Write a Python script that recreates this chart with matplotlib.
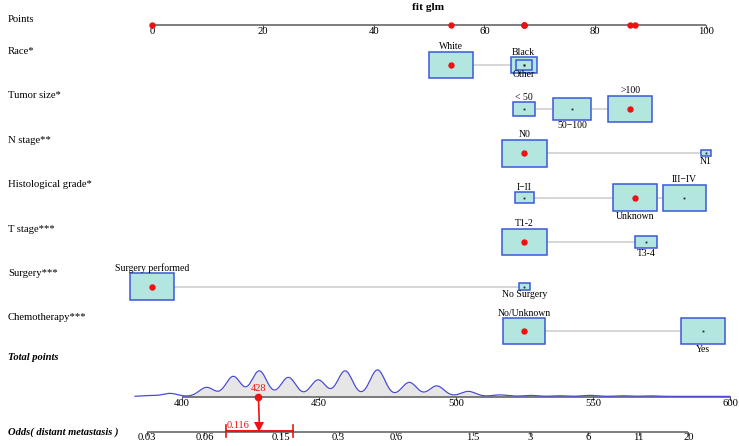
import matplotlib.pyplot as plt
import numpy as np
from matplotlib.patches import Rectangle

# ---- data
points_ticks = [0, 20, 40, 60, 80, 100]
total_ticks = [400, 450, 500, 550, 600]
odds_ticks = [0.03, 0.06, 0.15, 0.3, 0.6, 1.5, 3, 6, 11, 20]
odds_tick_labels = ["0.03", "0.06", "0.15", "0.3", "0.6", "1.5", "3", "6", "11", "20"]

row_names = ["Race*", "Tumor size*", "N stage**", "Histological grade*",
             "T stage***", "Surgery***", "Chemotherapy***"]
row_levels = [
    ["White", "Other", "Black"],
    ["< 50", "50\u2212100", ">100"],
    ["N0", "N1"],
    ["I\u2212II", "Unknown", "III\u2212IV"],
    ["T1-2", "T3-4"],
    ["Surgery performed", "No Surgery"],
    ["No/Unknown", "Yes"],
]
row_points = [
    [54.0, 67.1, 67.1],
    [67.2, 75.8, 86.3],
    [67.2, 100.0],
    [67.2, 87.2, 96.1],
    [67.2, 89.2],
    [0.0, 67.2],
    [67.2, 99.5],
]
# relative frequency of each level within its variable (box area)
row_freq = [
    [0.98, 0.13, 0.33],
    [0.25, 0.70, 1.00],
    [1.00, 0.054],
    [0.18, 1.00, 0.93],
    [1.00, 0.23],
    [1.00, 0.06],
    [0.90, 0.98],
]
selected = [0, 2, 0, 1, 0, 0, 0]

patient_total = 428
patient_odds = 0.116
patient_ci = (0.0775, 0.174)

# density of total points (peak location, height)
dens_centers = [388, 395.7, 409.1, 418.8, 428.3, 438.9, 449.8, 459.6, 471.4, 483.0,
                493.0, 504.5, 516.1, 527, 538, 549, 561, 571]
dens_heights = [0.8, 3, 9, 20, 25.5, 19, 16.5, 25.5, 26.5, 14,
                10.5, 5, 1.5, 1, 0.6, 1, 0.6, 0.5]

# ---- layout
W, H = 739, 446
row_y = [65, 109, 153.3, 197.8, 242, 286.5, 331]
points_y, total_y, odds_y = 25, 397, 432
box_w, box_h = 44.5, 26.7

plt.rcParams["font.family"] = ["Liberation Serif", "DejaVu Sans"]

fig = plt.figure(figsize=(W / 100, H / 100), dpi=100)
ax = fig.add_axes([0, 0, 1, 1])
ax.set_xlim(0, W)
ax.set_ylim(H, 0)
ax.axis("off")


def px_points(v):
    return 152 + np.asarray(v, dtype=float) * 5.54


def px_total(v):
    return 181.7 + (np.asarray(v, dtype=float) - 400) * 2.742


def px_odds(v):
    return 146.7 + (np.log10(np.asarray(v, dtype=float)) - np.log10(0.03)) * 191.8


def draw_scale(y, ticks, labels, to_px):
    xs = to_px(ticks)
    ax.plot([xs[0], xs[-1]], [y, y], color="#5a5a5a", lw=1.1, solid_capstyle="butt")
    for x, lab in zip(xs, labels):
        ax.plot([x, x], [y, y + 3], color="#5a5a5a", lw=0.8)
        ax.text(x, y + 1.5, lab, ha="center", va="top", fontsize=7.7)


# title
ax.text(428, 7, "fit glm", ha="center", va="center", fontsize=8.2, fontweight="bold")

# points axis
ax.text(8, 19, "Points", ha="left", va="center", fontsize=7.7)
draw_scale(points_y, points_ticks, [str(t) for t in points_ticks], px_points)
sel_pts = [row_points[i][s] for i, s in enumerate(selected)]
ax.plot(px_points(sel_pts), [points_y] * len(sel_pts), "o", color="#ee1111",
        ms=4.6, zorder=5, markeredgewidth=0)

# variable rows
for i, name in enumerate(row_names):
    y = row_y[i]
    ax.text(8, y - 13, name, ha="left", va="center", fontsize=7.7)
    xs = px_points(row_points[i])
    ax.plot([xs.min(), xs.max()], [y, y], color="#cfcfcf", lw=1.2, zorder=1)
    order = np.argsort(row_freq[i])[::-1]
    for j in order:
        s = np.sqrt(row_freq[i][j])
        w, h = box_w * s, box_h * s
        ax.add_patch(Rectangle((xs[j] - w / 2, y - h / 2), w, h, facecolor="#b3e6df",
                               edgecolor="#3a58d8", lw=1.1, zorder=2 + (1 - s)))
        if j == selected[i]:
            ax.plot(xs[j], y, "o", color="#ee1111", ms=4.6, markeredgewidth=0, zorder=6)
        else:
            ax.plot(xs[j], y, "s", color="#222222", ms=1.3, markeredgewidth=0, zorder=6)
        if j % 2 == 0:
            ax.text(xs[j], y - h / 2 - 0.5, row_levels[i][j], ha="center", va="bottom",
                    fontsize=7)
        else:
            ax.text(xs[j], y + h / 2 + 0.5, row_levels[i][j], ha="center", va="top",
                    fontsize=7)

# total points with density
ax.text(8, 357.7, "Total points", ha="left", va="center", fontsize=7.6,
        fontweight="bold", fontstyle="italic")
tp = np.linspace(383, 600, 800)
dens = np.zeros_like(tp)
for c, h in zip(dens_centers, dens_heights):
    dens += h * np.exp(-((tp - c) ** 2) / (2 * 2.7 ** 2))
mask = tp >= 401
ax.fill_between(px_total(tp[mask]), total_y, total_y - dens[mask],
                color="#e6e6e6", lw=0, zorder=1)
draw_scale(total_y, total_ticks, [str(t) for t in total_ticks], px_total)
ax.plot(px_total(tp), total_y - dens - 0.6, color="#4a4ad6", lw=0.9, zorder=3)

# odds axis
ax.text(8, 431.7, "Odds( distant metastasis )", ha="left", va="center", fontsize=7.6,
        fontweight="bold", fontstyle="italic")
draw_scale(odds_y, odds_ticks, odds_tick_labels, px_odds)

# patient marker
red = "#ee1111"
xp = float(px_total(patient_total))
xo = float(px_odds(patient_odds))
ax.plot([xp, xo], [total_y, odds_y - 6], color=red, lw=1.2, zorder=6)
ax.plot(xp, total_y, "o", color=red, ms=5.5, markeredgewidth=0, zorder=7)
ax.plot(xo, odds_y - 5, "v", color=red, ms=7, markeredgewidth=0, zorder=7)
ax.text(xp, total_y - 4, str(patient_total), color=red, ha="center", va="bottom",
        fontsize=7.5, zorder=7)
lo, hi = px_odds(patient_ci)
ax.plot([lo, hi], [odds_y - 1.5, odds_y - 1.5], color=red, lw=1.4, zorder=6)
for xc in (lo, hi):
    ax.plot([xc, xc], [odds_y - 7, odds_y + 5], color=red, lw=1.2, zorder=6)
ax.text(lo + 1, odds_y - 7, f"{patient_odds:.3f}", color=red, ha="left", va="center",
        fontsize=7.5, zorder=7)

fig.savefig("out.png", dpi=100)
